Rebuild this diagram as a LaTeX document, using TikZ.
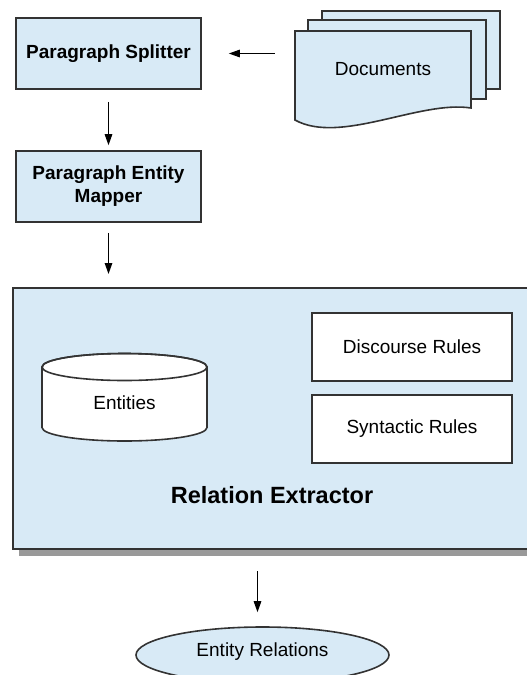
\documentclass[tikz,border=0pt]{standalone}
\usepackage{fontspec}
\setmainfont{Liberation Sans}
\usetikzlibrary{arrows.meta, shadows, shapes.geometric}
\definecolor{paleblue}{HTML}{D8EAF6}
\definecolor{dkline}{HTML}{333333}
\definecolor{shgray}{HTML}{999999}

\begin{document}
\begin{tikzpicture}[x=1pt, y=-1pt,
  >={Triangle[length=11pt, width=7.5pt]},
  procbox/.style={
    draw=dkline, line width=1.6pt, fill=paleblue,
    minimum width=185pt, minimum height=71pt,
    font=\fontsize{19}{23}\selectfont\bfseries, align=center, inner sep=4pt
  },
  rulebox/.style={
    draw=dkline, line width=1.6pt, fill=white,
    minimum width=200pt, minimum height=68pt,
    font=\fontsize{19}{23}\selectfont
  },
  page/.style={draw=dkline, line width=1.6pt, fill=paleblue},
  flow/.style={->, line width=1.3pt, black},
]

\useasboundingbox (0,0) rectangle (527,675);

% =============================================
% Documents (stack of pages)
% =============================================
\draw[page] (322,11) rectangle (500,89);
\draw[page] (308,20) rectangle (486,99);
\draw[page] (295,31) -- (471,31) -- (471,108)
  .. controls (420,100) and (340,145) .. (295,120) -- cycle;
\node[minimum width=176pt, minimum height=77pt,
      font=\fontsize{19}{23}\selectfont] (docs) at (383,69.5) {Documents};

% =============================================
% Pre-processing
% =============================================
\node[procbox] (ps) at (108.5,53.5) {Paragraph Splitter};
\node[procbox] (pem) at (108.5,186.5) {Paragraph Entity\\Mapper};

% =============================================
% Relation Extractor
% =============================================
\node[draw=dkline, line width=2pt, fill=paleblue,
      minimum width=517pt, minimum height=261pt,
      drop shadow={opacity=1, fill=shgray, shadow xshift=6pt, shadow yshift=-7pt}]
  (re) at (271.5,418.5) {};

% Entities store
\draw[line width=1.6pt, draw=dkline, fill=white]
  (42,367) -- (42,427.5)
  arc[start angle=180, end angle=360, x radius=82.5pt, y radius=13.5pt]
  -- (207,367)
  arc[start angle=0, end angle=180, x radius=82.5pt, y radius=13.5pt] -- cycle;
\draw[line width=1.6pt, draw=dkline]
  (124.5,367) ellipse[x radius=82.5pt, y radius=13.5pt];
\node[font=\fontsize{19}{23}\selectfont] (ent) at (124.5,403) {Entities};

% Rules
\node[rulebox] (dr) at (412,347) {Discourse Rules};
\node[rulebox] (sr) at (412,429) {Syntactic Rules};

\node[font=\fontsize{23.5}{28}\selectfont\bfseries] (relbl) at (272,495)
  {Relation Extractor};

% =============================================
% Output
% =============================================
\node[ellipse, draw=dkline, line width=1.6pt, fill=paleblue, inner sep=0pt,
      minimum width=253pt, minimum height=56pt,
      font=\fontsize{19}{23}\selectfont] (er) at (262.5,655) {};
\node[font=\fontsize{19}{23}\selectfont] (erlbl) at (262.5,652) {Entity Relations};

% Connectors
\draw[flow, shorten <=20pt, shorten >=27pt] (ps.east -| docs.west) -- (ps.east);
\draw[flow, shorten <=12pt, shorten >=5pt] (ps.south) -- (pem.north);
\draw[flow, shorten <=10pt, shorten >=13pt] (pem.south) -- (pem.south |- re.north);
\draw[flow, shorten <=21pt, shorten >=14pt]
  ([xshift=-5pt]er.north |- re.south) -- ([xshift=-5pt]er.north);

\end{tikzpicture}
\end{document}
